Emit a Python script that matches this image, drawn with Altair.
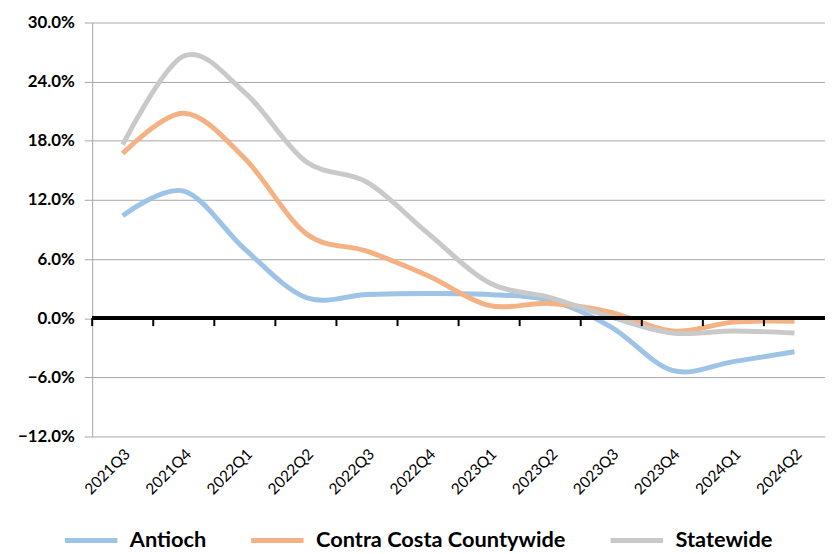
import altair as alt
import pandas as pd

quarters = ["2021Q3", "2021Q4", "2022Q1", "2022Q2", "2022Q3", "2022Q4",
            "2023Q1", "2023Q2", "2023Q3", "2023Q4", "2024Q1", "2024Q2"]
antioch = [10.4, 12.9, 7.0, 2.1, 2.4, 2.5, 2.4, 1.8, -0.9, -5.3, -4.4, -3.4]
contra_costa = [16.7, 20.8, 16.2, 8.6, 6.8, 4.3, 1.3, 1.5, 0.6, -1.3, -0.4, -0.3]
statewide = [17.6, 26.6, 22.9, 15.9, 13.8, 8.6, 3.6, 2.1, 0.1, -1.5, -1.3, -1.5]

series_names = ["Antioch", "Contra Costa Countywide", "Statewide"]
series_colors = ["#9DC3E6", "#F4B183", "#C9C9C9"]

rows = []
for name, vals in zip(series_names, [antioch, contra_costa, statewide]):
    for q, v in zip(quarters, vals):
        rows.append({"quarter": q, "series": name, "value": v / 100})
df = pd.DataFrame(rows)
ticks_df = pd.DataFrame({"quarter": quarters})

FONT = "Lato"

xscale = alt.Scale(type="band", domain=quarters, paddingInner=0, paddingOuter=0)
yscale = alt.Scale(domain=[-0.12, 0.30], nice=False)

lines = alt.Chart(df).mark_line(strokeWidth=5, interpolate="cardinal").encode(
    x=alt.X("quarter:N", scale=xscale, bandPosition=0.5, sort=quarters,
            axis=alt.Axis(title=None, labelAngle=-45, labelAlign="right",
                          labelBaseline="top", labelPadding=10, ticks=False,
                          domain=False, labelFontSize=15.5, labelFont=FONT,
                          labelColor="#000000")),
    y=alt.Y("value:Q", scale=yscale,
            axis=alt.Axis(title=None, format=".1%", values=[-0.12, -0.06, 0, 0.06, 0.12, 0.18, 0.24, 0.30],
                          labelFontSize=17, labelFontWeight="bold", labelFont=FONT,
                          labelColor="#000000", labelPadding=10, tickSize=8,
                          tickColor="#A6A6A6", gridColor="#A6A6A6", domainColor="#A6A6A6")),
    color=alt.Color("series:N", scale=alt.Scale(domain=series_names, range=series_colors),
                    legend=alt.Legend(title=None, orient="none", direction="horizontal",
                                      legendX=-30, legendY=494, symbolType="stroke",
                                      symbolSize=2800, symbolStrokeWidth=5,
                                      labelFontSize=22, labelFontWeight="bold",
                                      labelFont=FONT, labelColor="#000000",
                                      labelOffset=10, columnPadding=34, labelLimit=400)),
)

zero = alt.Chart(ticks_df).mark_rule(color="black", strokeWidth=3).encode(
    y=alt.datum(0, scale=yscale)
)

ticks = alt.Chart(ticks_df).mark_rule(color="black", strokeWidth=2).encode(
    x=alt.X("quarter:N", scale=xscale, bandPosition=0, sort=quarters),
    y=alt.datum(0),
    y2=alt.datum(-0.008),
)

chart = alt.layer(lines, ticks, zero).properties(
    width=740, height=418,
    autosize=alt.AutoSizeParams(type="none"),
    padding={"left": 85, "top": 12, "right": 0, "bottom": 116},
).configure_view(stroke=None).configure_axis(gridWidth=1)

chart.save("out.html", embed_options={"renderer": "svg", "actions": False})
